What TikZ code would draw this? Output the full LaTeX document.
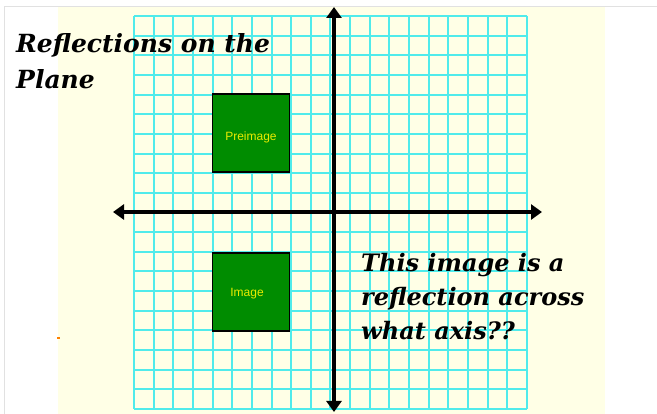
\documentclass[tikz,border=0pt]{standalone}
\usepackage{fontspec}
\setmainfont{DejaVu Serif}
\setsansfont{Liberation Sans}
\usetikzlibrary{arrows.meta}
\definecolor{cream}{RGB}{255,255,230}
\definecolor{gridcyan}{RGB}{80,235,235}
\definecolor{boxgreen}{RGB}{0,140,0}
\definecolor{labelyellow}{RGB}{235,235,0}
\definecolor{framegray}{RGB}{225,225,225}
\tikzset{
  gridline/.style={draw=gridcyan, line width=1.3pt},
  axisline/.style={line width=4.8pt, black, {Triangle[length=11pt,width=15pt]}-{Triangle[length=11pt,width=15pt]}},
  greenbox/.style={draw=black, line width=1.8pt, fill=boxgreen, minimum width=77pt, minimum height=78pt, inner sep=0pt},
  boxlabel/.style={text=labelyellow, font=\sffamily\fontsize{12}{14}\selectfont, inner sep=0pt},
  fancytext/.style={font=\bfseries\itshape\fontsize{25}{35.5}\selectfont, text=black, inner sep=0pt, align=left, anchor=north west},
  fancybig/.style={font=\bfseries\itshape\fontsize{24}{34}\selectfont, text=black, inner sep=0pt, align=left, anchor=north west}
}
\begin{document}
\begin{tikzpicture}[x=1pt,y=-1pt]
\useasboundingbox (0,0) rectangle (657,414);
\fill[white] (0,0) rectangle (657,414);
% page frame
\draw[framegray, line width=1pt] (4,414) -- (4,7) -- (657,7);
% cream panel
\fill[cream] (58,7.5) rectangle (605,414);
% grid 20x20
\draw[gridline]
  \foreach \i in {0,...,20} {
    ({round(134+19.65*\i)},16) -- ({round(134+19.65*\i)},409)
    (134,{round(16+19.65*\i)}) -- (527,{round(16+19.65*\i)})
  };
% small orange mark
\fill[orange] (57,337) rectangle (59.5,339.5);
% axes
\coordinate (xl) at (113,212);
\coordinate (xr) at (542,212);
\coordinate (yt) at (334,7);
\coordinate (yb) at (334,412);
\draw[axisline] (xl) -- (xr);
\draw[axisline] (yt) -- (yb);
% squares
\node[greenbox] (pre) at (251,133) {};
\node[boxlabel] (pretext) at (251,137) {Preimage};
\node[greenbox] (img) at (251,292) {};
\node[boxlabel] (imgtext) at (247,294) {Image};
% titles
\node[fancytext] (title) at (16,33.5) {Reflections on the\\Plane};
\node[fancybig] (question) at (361,253) {This image is a\\reflection across\\what axis??};
\end{tikzpicture}
\end{document}
